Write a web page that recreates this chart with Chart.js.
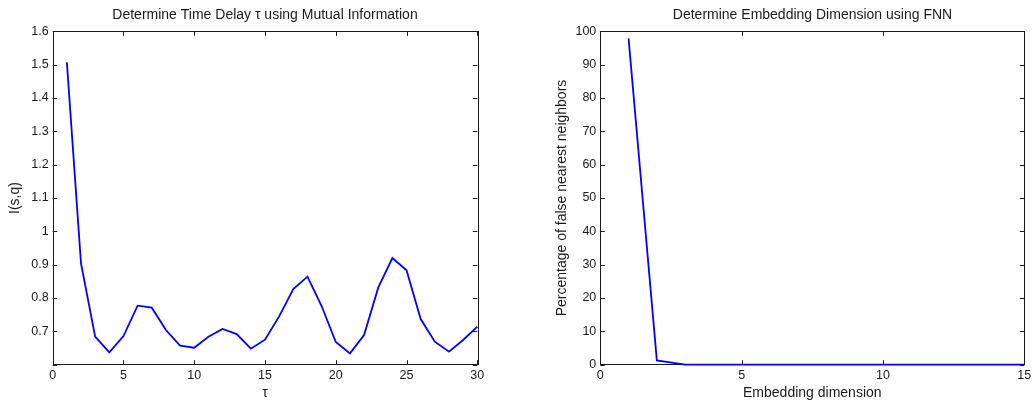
<!DOCTYPE html>
<html>
<head>
<meta charset="utf-8">
<script src="https://cdn.jsdelivr.net/npm/chart.js@4"></script>
<style>
  html, body { margin: 0; background: #fff; overflow: hidden; width: 1032px; height: 404px; }
  canvas { position: absolute; top: 0; }
  #left { left: 0; }
  #right { left: 540px; }
</style>
</head>
<body>
<canvas id="left" width="530" height="404"></canvas>
<canvas id="right" width="545" height="404"></canvas>
<script>
// left panel: mutual information vs delay
const tau = [1,2,3,4,5,6,7,8,9,10,11,12,13,14,15,16,17,18,19,20,21,22,23,24,25,26,27,28,29,30];
const mutualInfo = [1.507,0.904,0.684,0.637,0.686,0.777,0.771,0.704,0.657,0.651,
                    0.684,0.707,0.692,0.648,0.675,0.745,0.827,0.864,0.776,0.668,
                    0.634,0.689,0.831,0.920,0.883,0.737,0.669,0.639,0.674,0.714];

// right panel: false nearest neighbours vs embedding dimension
const dims = [1,2,3,4,5,6,7,8,9,10,11,12,13,14,15];
const fnnPercent = [97.9,1.3,0,0,0,0,0,0,0,0,0,0,0,0,0];

const FONT = "'Liberation Sans', Arial, sans-serif";
const INK = '#1a1a1a';

// MATLAB style box with inward ticks on all four sides
const boxTicks = {
    id: 'boxTicks',
    beforeDatasetsDraw(chart) {
        const ctx = chart.ctx;
        const a = chart.chartArea;
        const xs = chart.scales.x, ys = chart.scales.y;
        const len = 4.5;
        ctx.save();
        ctx.strokeStyle = INK;
        ctx.lineWidth = 1;
        ctx.beginPath();
        xs.ticks.forEach(t => {
            const px = Math.round(xs.getPixelForValue(t.value)) + 0.5;
            ctx.moveTo(px, a.bottom); ctx.lineTo(px, a.bottom - len);
            ctx.moveTo(px, a.top); ctx.lineTo(px, a.top + len);
        });
        ys.ticks.forEach(t => {
            const py = Math.round(ys.getPixelForValue(t.value)) + 0.5;
            ctx.moveTo(a.left, py); ctx.lineTo(a.left + len, py);
            ctx.moveTo(a.right, py); ctx.lineTo(a.right - len, py);
        });
        ctx.stroke();
        ctx.strokeRect(Math.round(a.left) + 0.5, Math.round(a.top) + 0.5,
                       Math.round(a.right - a.left), Math.round(a.bottom - a.top));
        ctx.restore();
    }
};

function makeChart(id, xs, ys, opt) {
    return new Chart(document.getElementById(id), {
        type: 'line',
        data: {
            datasets: [{
                data: xs.map((x, i) => ({x: x, y: ys[i]})),
                borderColor: '#0000ff',
                borderWidth: 1.8,
                pointRadius: 0,
                tension: 0,
                clip: false
            }]
        },
        options: {
            responsive: false,
            animation: false,
            layout: { padding: 0 },
            plugins: {
                legend: { display: false },
                tooltip: { enabled: false },
                title: {
                    display: true,
                    text: opt.title,
                    color: INK,
                    font: { family: FONT, size: 14, weight: 'normal' },
                    padding: { top: 6.6, bottom: 7.9 }
                }
            },
            scales: {
                x: {
                    type: 'linear',
                    min: opt.xMin, max: opt.xMax,
                    afterFit(s) { s.height = 39.3; },
                    grid: { display: false, drawTicks: false },
                    border: { display: false },
                    ticks: { stepSize: 5, padding: 3, color: INK, maxRotation: 0,
                             font: { family: FONT, size: 12.5 } },
                    title: { display: true, text: opt.xTitle, color: INK,
                             font: { family: FONT, size: 14 },
                             padding: { top: 0, bottom: 2.1 } }
                },
                y: {
                    type: 'linear',
                    min: opt.yMin, max: opt.yMax,
                    afterFit(s) { s.width = opt.yWidth; },
                    grid: { display: false, drawTicks: false },
                    border: { display: false },
                    ticks: { stepSize: opt.yStep, padding: 4, color: INK,
                             font: { family: FONT, size: 12.5 },
                             callback: opt.yFormat },
                    title: { display: true, text: opt.yTitle, color: INK,
                             font: { family: FONT, size: 14 },
                             padding: { top: opt.yTitlePad, bottom: 0 } }
                },
                // empty right-hand spacer so the title centres over the axes
                yRight: {
                    type: 'linear',
                    position: 'right',
                    afterFit(s) { s.width = opt.rightWidth; },
                    grid: { display: false, drawTicks: false },
                    border: { display: false },
                    ticks: { display: false }
                }
            }
        },
        plugins: [boxTicks]
    });
}

makeChart('left', tau, mutualInfo, {
    title: 'Determine Time Delay \u03c4 using Mutual Information',
    xTitle: '\u03c4', yTitle: 'I(s,q)',
    xMin: 0, xMax: 30, yMin: 0.6, yMax: 1.6, yStep: 0.1,
    yWidth: 52.7, yTitlePad: 6.6, rightWidth: 52.7,
    yFormat: v => v < 0.65 ? '' : String(Math.round(v * 10) / 10)
});

makeChart('right', dims, fnnPercent, {
    title: 'Determine Embedding Dimension using FNN',
    xTitle: 'Embedding dimension', yTitle: 'Percentage of false nearest neighbors',
    xMin: 0, xMax: 15, yMin: 0, yMax: 100, yStep: 10,
    yWidth: 60.3, yTitlePad: 13.3, rightWidth: 60.7,
    yFormat: v => String(Math.round(v))
});
</script>
</body>
</html>
